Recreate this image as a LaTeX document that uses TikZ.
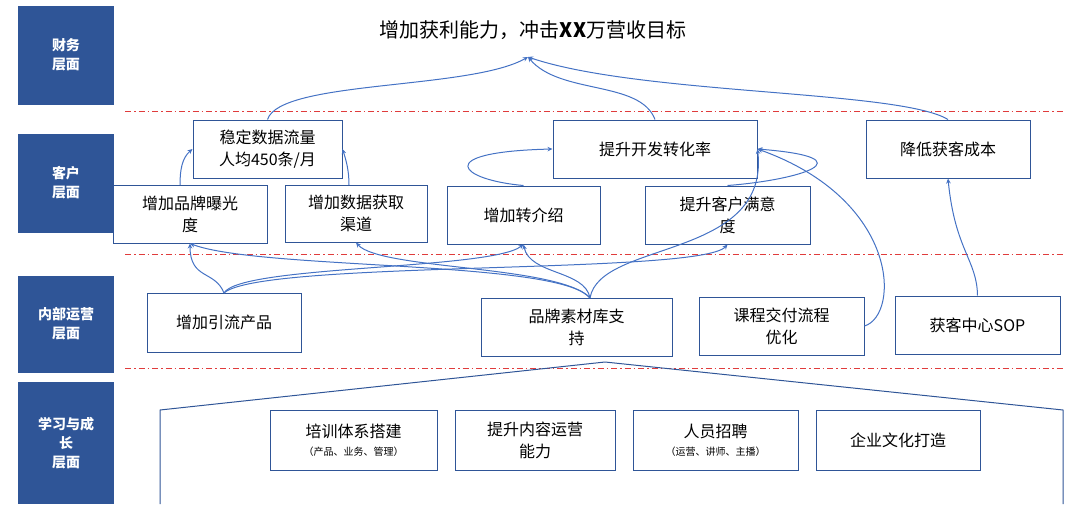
\documentclass[tikz,border=0pt]{standalone}
\usepackage{fontspec}
\setmainfont{Noto Sans CJK SC}
\usetikzlibrary{arrows.meta}
\definecolor{band}{HTML}{2F5597}
\definecolor{ln}{HTML}{4472C4}
\definecolor{rd}{HTML}{E03C3C}
\begin{document}
\begin{tikzpicture}[x=1pt,y=-1pt,
  bandbox/.style={fill=band,text=white,font=\bfseries\fontsize{14}{19}\selectfont,align=center,inner sep=0},
  bx/.style={draw=band,line width=1pt,align=center,font=\fontsize{16}{22}\selectfont,inner sep=0},
  con/.style={draw=ln,line width=1pt,-{Stealth[length=5pt,width=4.5pt]}},
  sep/.style={draw=rd,line width=1pt,dash pattern=on 6pt off 3pt on 1.5pt off 3pt}]
\useasboundingbox (0,0) rectangle (1080,504);
% bands
\node[bandbox,minimum width=96,minimum height=99] (b1) at (66,55) {财务\\层面};
\node[bandbox,minimum width=96,minimum height=99] (b2) at (66,183) {客户\\层面};
\node[bandbox,minimum width=96,minimum height=97] (b3) at (66,324) {内部运营\\层面};
\node[bandbox,minimum width=96,minimum height=122] (b4) at (66,443) {学习与成\\长\\层面};
% separators
\draw[sep] (125,111) -- (1065,111);
\draw[sep] (125,254) -- (1065,254);
\draw[sep] (125,368) -- (1065,368);
% title
\node[font=\fontsize{20}{24}\selectfont] (title) at (533,30) {增加获利能力，冲击\textbf{XX}万营收目标};
\coordinate (tp) at (528,57);
% customer boxes
\node[bx,minimum width=149,minimum height=58] (wd) at (267.5,149) {稳定数据流量\\人均450条/月};
\node[bx,minimum width=154,minimum height=58] (pp) at (190,214) {增加品牌曝光\\度};
\node[bx,minimum width=142,minimum height=57] (sj) at (356,213.5) {增加数据获取\\渠道};
\node[bx,minimum width=153,minimum height=58] (zj) at (523.5,215) {增加转介绍};
\node[bx,minimum width=165,minimum height=58] (my) at (727.5,215) {提升客户满意\\度};
\node[bx,minimum width=204,minimum height=58] (kf) at (655,149) {提升开发转化率};
\node[bx,minimum width=164,minimum height=58] (cb) at (948,149) {降低获客成本};
% internal
\node[bx,minimum width=154,minimum height=59] (yl) at (224,322.5) {增加引流产品};
\node[bx,minimum width=191,minimum height=58] (sc) at (576.5,327) {品牌素材库支\\持};
\node[bx,minimum width=165,minimum height=58] (kc) at (781.5,326) {课程交付流程\\优化};
\node[bx,minimum width=165,minimum height=58] (sop) at (977.5,325) {获客中心SOP};
% learning
\draw[draw=band,line width=1pt] (160,504) -- (160,410) -- (605,362) -- (1063,410) -- (1063,504);
\node[bx,minimum width=167,minimum height=60] (px) at (353.5,440) {培训体系搭建\\[-4pt]{\fontsize{10}{12}\selectfont （产品、业务、管理）}};
\node[bx,minimum width=160,minimum height=60] (nr) at (535,440) {提升内容运营\\能力};
\node[bx,minimum width=165,minimum height=60] (ry) at (715.5,440) {人员招聘\\[-4pt]{\fontsize{10}{12}\selectfont （运营、讲师、主播）}};
\node[bx,minimum width=164,minimum height=60] (wh) at (898,440) {企业文化打造};
% connectors to title
\draw[con] (wd.north) .. controls (280,80) and (470,90) .. (tp);
\draw[con] (kf.north) .. controls (640,80) and (560,95) .. (tp);
\draw[con] (cb.north) .. controls (900,90) and (640,95) .. (tp);
% customer level
\coordinate (ppt) at (180,185);
\coordinate (sjt) at (349,185);
\draw[con] (ppt) .. controls (180,170) and (182,158) .. (wd.west);
\draw[con] (sjt) .. controls (349,170) and (346,160) .. (wd.east);
\draw[con] (zj.north) .. controls (460,180) and (430,152) .. (kf.west);
\draw[con] (my.north) .. controls (800,180) and (870,158) .. (kf.east);
\draw[con] (kc.east) .. controls (900,315) and (900,200) .. (kf.east);
\draw[con] (sop.north) .. controls (977,260) and (955,250) .. (cb.south);
% internal level
\coordinate (ylt) at (224,293);
\coordinate (sct) at (590,298);
\draw[con] (ylt) .. controls (215,270) and (190,280) .. (pp.south);
\draw[con] (ylt) .. controls (240,265) and (490,270) .. (zj.south);
\draw[con] (ylt) .. controls (260,260) and (700,275) .. (my.south);
\draw[con] (sct) .. controls (560,260) and (260,270) .. (pp.south);
\draw[con] (sct) .. controls (560,265) and (380,270) .. (sj.south);
\draw[con] (sct) .. controls (585,270) and (530,275) .. (zj.south);
\draw[con] (sct) .. controls (600,240) and (770,260) .. (kf.east);
\end{tikzpicture}
\end{document}
